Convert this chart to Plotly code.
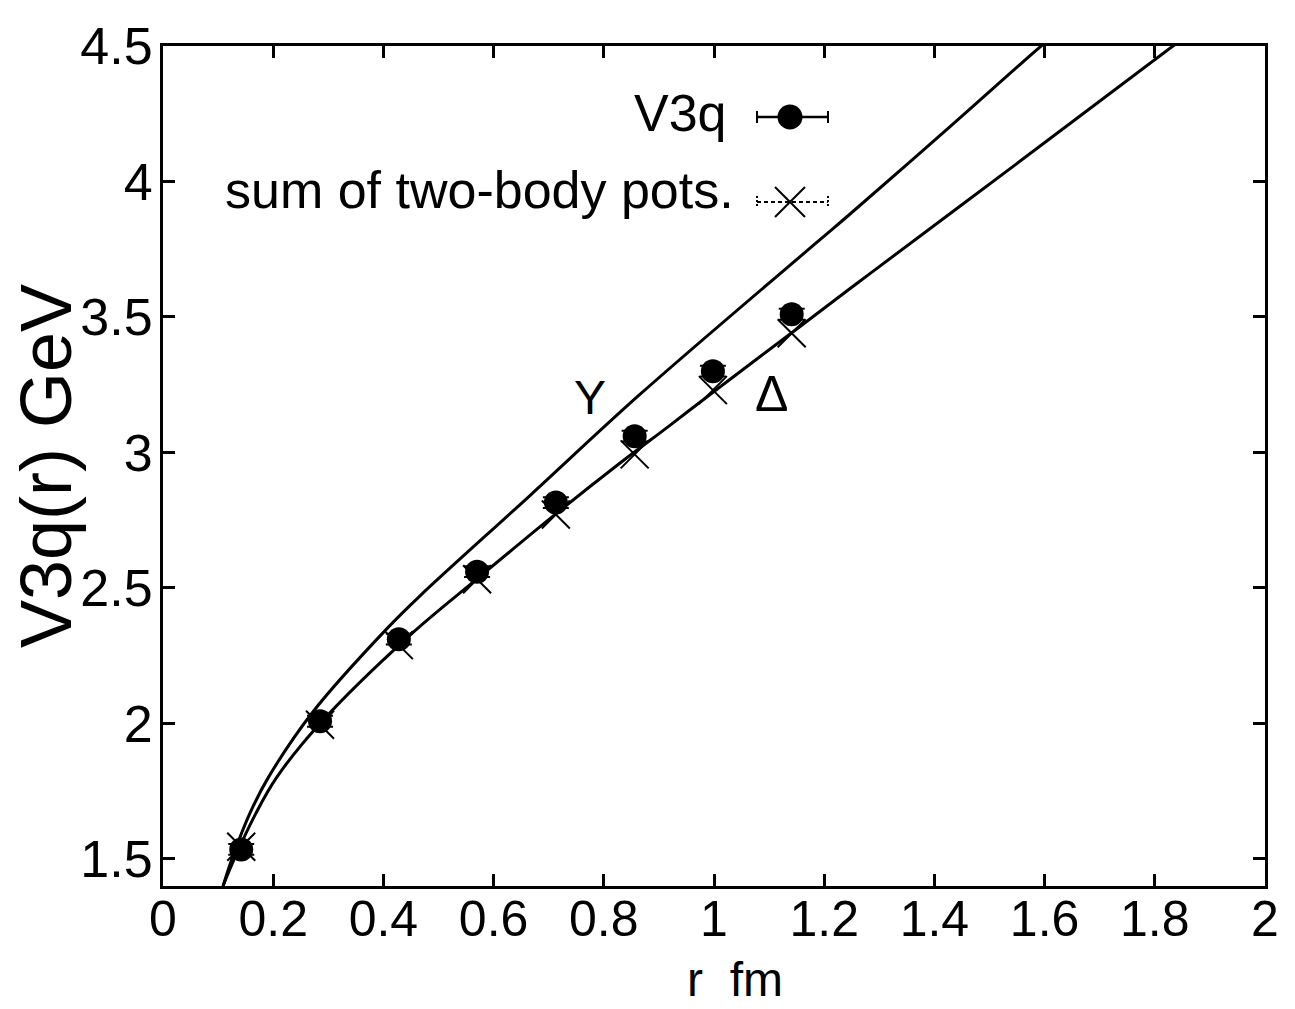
import plotly.graph_objects as go

# ---------------- data ----------------
R_POINTS = [0.142, 0.285, 0.428, 0.570, 0.713, 0.856, 0.998, 1.141]
V3Q_VALUES = [1.535, 2.008, 2.311, 2.560, 2.815, 3.060, 3.300, 3.510]
V3Q_ERRORS = [0.02, 0.02, 0.02, 0.02, 0.02, 0.02, 0.02, 0.02]
SUM_TWO_BODY = [1.545, 1.995, 2.289, 2.532, 2.771, 2.993, 3.230, 3.440]

Y_CURVE_R = [0.109, 0.125, 0.158, 0.191, 0.273, 0.406, 0.466, 0.666, 0.866,
             1.187, 1.247, 1.416, 1.592, 1.60]
Y_CURVE_V = [1.40, 1.50, 1.67, 1.80, 2.045, 2.349, 2.470, 2.841, 3.215,
             3.776, 3.880, 4.180, 4.497, 4.51]

D_CURVE_R = [0.109, 0.125, 0.169, 0.206, 0.285, 0.448, 0.571, 0.714, 0.829,
             0.920, 1.000, 1.140, 1.247, 1.283, 1.549, 1.831, 1.84]
D_CURVE_V = [1.40, 1.48, 1.67, 1.80, 2.00, 2.325, 2.535, 2.775, 2.960,
             3.100, 3.225, 3.440, 3.605, 3.660, 4.065, 4.497, 4.51]

X_TICKS = [0, 0.2, 0.4, 0.6, 0.8, 1.0, 1.2, 1.4, 1.6, 1.8, 2.0]
X_TICK_LABELS = ["0", "0.2", "0.4", "0.6", "0.8", "1", "1.2", "1.4", "1.6", "1.8", "2"]
Y_TICKS = [1.5, 2.0, 2.5, 3.0, 3.5, 4.0, 4.5]
Y_TICK_LABELS = ["1.5", "2", "2.5", "3", "3.5", "4", "4.5"]

LEGEND_LABELS = ["V3q", "sum of two-body pots."]
CURVE_LABELS = ["Y", "\u0394"]
X_TITLE = "r\u00a0\u00a0fm"
Y_TITLE = "V3q(r) GeV"

# ---------------- styling ----------------
FONT = "Liberation Sans, Arial, Helvetica, sans-serif"
W, H = 1295, 1009
L, R, T, B = 163, 30, 46, 123
PW, PH = W - L - R, H - T - B


def px_x(p):
    return (p - L) / PW


def px_y(p):
    return 1 - (p - T) / PH


fig = go.Figure()

fig.add_trace(go.Scatter(x=Y_CURVE_R, y=Y_CURVE_V, mode="lines",
                         line=dict(color="black", width=3, shape="spline"),
                         showlegend=False, hoverinfo="skip"))
fig.add_trace(go.Scatter(x=D_CURVE_R, y=D_CURVE_V, mode="lines",
                         line=dict(color="black", width=3, shape="spline"),
                         showlegend=False, hoverinfo="skip"))
fig.add_trace(go.Scatter(x=R_POINTS, y=SUM_TWO_BODY, mode="markers",
                         marker=dict(symbol="x-thin", size=28,
                                     line=dict(color="black", width=2)),
                         showlegend=False))
fig.add_trace(go.Scatter(x=R_POINTS, y=V3Q_VALUES, mode="markers",
                         marker=dict(symbol="circle", size=24, color="black"),
                         error_y=dict(type="data", array=V3Q_ERRORS, visible=True,
                                      color="black", thickness=2, width=13),
                         showlegend=False))

# ---- legend keys drawn on an overlay axis in pixel units ----
fig.add_trace(go.Scatter(x=[757, 828], y=[117, 117], mode="lines",
                         line=dict(color="black", width=2.5),
                         xaxis="x2", yaxis="y2", showlegend=False, hoverinfo="skip"))
fig.add_trace(go.Scatter(x=[757, 757, None, 828, 828], y=[111, 123, None, 111, 123],
                         mode="lines", line=dict(color="black", width=2),
                         xaxis="x2", yaxis="y2", showlegend=False, hoverinfo="skip"))
fig.add_trace(go.Scatter(x=[790], y=[117], mode="markers",
                         marker=dict(symbol="circle", size=25, color="black"),
                         xaxis="x2", yaxis="y2", showlegend=False, hoverinfo="skip"))
fig.add_trace(go.Scatter(x=[757, 828], y=[202, 202], mode="lines",
                         line=dict(color="black", width=2, dash="4px,3px"),
                         xaxis="x2", yaxis="y2", showlegend=False, hoverinfo="skip"))
fig.add_trace(go.Scatter(x=[757, 757, None, 828, 828], y=[196, 208, None, 196, 208],
                         mode="lines", line=dict(color="black", width=2, dash="2px,2px"),
                         xaxis="x2", yaxis="y2", showlegend=False, hoverinfo="skip"))
fig.add_trace(go.Scatter(x=[790], y=[202], mode="markers",
                         marker=dict(symbol="x-thin", size=30,
                                     line=dict(color="black", width=2)),
                         xaxis="x2", yaxis="y2", showlegend=False, hoverinfo="skip"))

axis_common = dict(showline=True, linewidth=3, linecolor="black", mirror="ticks",
                   ticks="inside", ticklen=12, tickwidth=2.5, tickcolor="black",
                   showgrid=False, zeroline=False)

fig.update_layout(
    width=W, height=H, autosize=False,
    margin=dict(l=L, r=R, t=T, b=B),
    paper_bgcolor="white", plot_bgcolor="white",
    xaxis=dict(range=[0, 2], tickmode="array", tickvals=X_TICKS, ticktext=X_TICK_LABELS,
               tickfont=dict(family=FONT, size=50, color="black"),
               ticklabelstandoff=-13, **axis_common),
    yaxis=dict(range=[1.40, 4.5], tickmode="array", tickvals=Y_TICKS, ticktext=Y_TICK_LABELS,
               tickfont=dict(family=FONT, size=52, color="black"),
               ticklabelstandoff=-3, **axis_common),
    xaxis2=dict(overlaying="x", range=[L, W - R], visible=False),
    yaxis2=dict(overlaying="y", range=[H - B, T], visible=False),
    showlegend=False,
)

ann = []
ann.append(dict(x=px_x(729), y=px_y(113), xref="paper", yref="paper", text=LEGEND_LABELS[0],
                showarrow=False, xanchor="right", yanchor="middle",
                font=dict(family=FONT, size=52, color="black")))
ann.append(dict(x=px_x(736), y=px_y(190), xref="paper", yref="paper", text=LEGEND_LABELS[1],
                showarrow=False, xanchor="right", yanchor="middle",
                font=dict(family=FONT, size=52, color="black")))
ann.append(dict(x=0.775, y=3.203, xref="x", yref="y", text=CURVE_LABELS[0], showarrow=False,
                xanchor="center", yanchor="middle", font=dict(family=FONT, size=48, color="black")))
ann.append(dict(x=1.105, y=3.214, xref="x", yref="y", text=CURVE_LABELS[1], showarrow=False,
                xanchor="center", yanchor="middle", font=dict(family=FONT, size=50, color="black")))
ann.append(dict(x=px_x(735), y=px_y(979), xref="paper", yref="paper", text=X_TITLE,
                showarrow=False, xanchor="center", yanchor="middle",
                font=dict(family=FONT, size=48, color="black")))
ann.append(dict(x=px_x(46), y=px_y(466), xref="paper", yref="paper", text=Y_TITLE,
                showarrow=False, textangle=-90, xanchor="center", yanchor="middle",
                font=dict(family=FONT, size=72, color="black")))
fig.update_layout(annotations=ann)

fig.write_html("out.html")
